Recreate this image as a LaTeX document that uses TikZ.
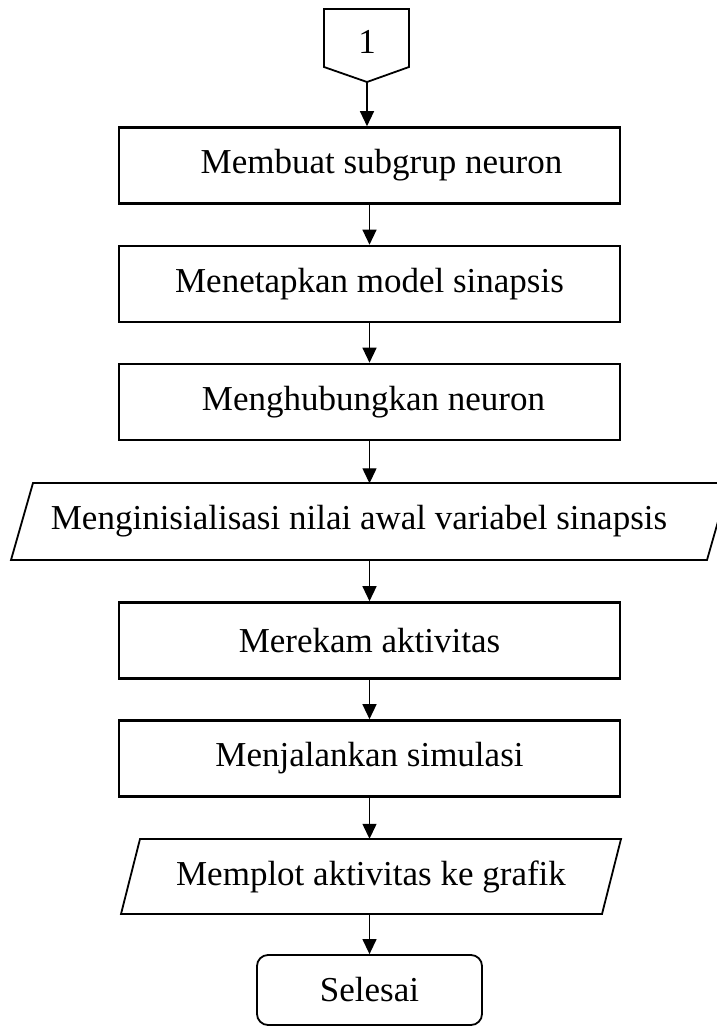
\documentclass[tikz,border=0pt]{standalone}
\usepackage{fontspec}
\setmainfont{Liberation Serif}
\usetikzlibrary{arrows.meta}
\begin{document}
\begin{tikzpicture}[x=1pt,y=-1pt,
  every node/.style={font=\fontsize{35}{40}\selectfont, inner sep=0pt},
  procbox/.style={draw, line width=2.6pt, minimum width=501pt, minimum height=76pt},
  iobox/.style={minimum width=500pt, minimum height=76pt},
  outline/.style={draw, line width=1.8pt, line join=miter},
  termbox/.style={draw, line width=1.8pt, rounded corners=11pt, minimum width=225pt, minimum height=70pt},
  flow/.style={line width=1.3pt, -{Triangle[length=15pt,width=14pt]}}
]
\useasboundingbox (0,0) rectangle (716,1027);

% off-page connector
\draw[outline] (324,9) -- (409,9) -- (409,67) -- (367,82) -- (324,67) -- cycle;
\node (c1) at (367,42) {1};
\coordinate (ctip) at (367,82);

\node[procbox] (b1) at (369.5,165.5) {\hspace*{24pt}Membuat subgrup neuron};
\node[procbox] (b2) at (369.5,284) {Menetapkan model sinapsis};
\node[procbox] (b3) at (369.5,402) {\hspace*{8pt}Menghubungkan neuron};

\node[iobox] (p1) at (370,521.5) {Menginisialisasi nilai awal variabel sinapsis\hspace*{22pt}};
\draw[outline] (33,483) -- (729,483) -- (707,560) -- (11,560) -- cycle;

\node[procbox] (b4) at (369.5,640.5) {Merekam aktivitas};
\node[procbox] (b5) at (369.5,758.5) {Menjalankan simulasi};

\node[iobox, minimum width=400pt, minimum height=75pt] (p2) at (371,876.5) {Memplot aktivitas ke grafik};
\draw[outline] (140,839) -- (621,839) -- (602,914) -- (121,914) -- cycle;

\node[termbox] (t) at (369.5,990) {Selesai};

\draw[flow] (ctip) -- (ctip |- b1.north);
\draw[flow] (b1.south) -- (b2.north);
\draw[flow] (b2.south) -- (b3.north);
\draw[flow] (b3.south) -- (b3.south |- p1.north);
\draw[flow] (b3.south |- p1.south) -- (b4.north);
\draw[flow] (b4.south) -- (b5.north);
\draw[flow] (b5.south) -- (b5.south |- p2.north);
\draw[flow] (b5.south |- p2.south) -- (t.north);
\end{tikzpicture}
\end{document}
